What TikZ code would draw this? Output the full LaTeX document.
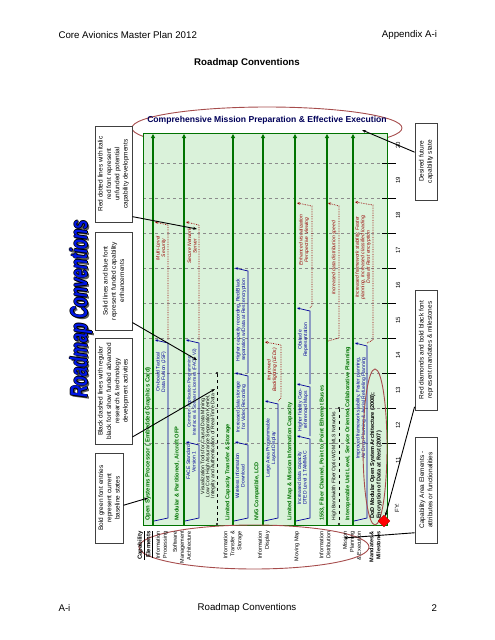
\documentclass[tikz,border=0pt]{standalone}
\usepackage{fontspec}
\setmainfont{Liberation Sans}
\usetikzlibrary{arrows.meta,positioning,calc,shapes.geometric}
\tikzset{
    baseline color/.style={green!45!black},
    funded color/.style={blue!60!black},
    unfunded color/.style={red!60!black},
    ring color/.style={red!50!black!70!white},
    title blue/.style={blue!90!cyan!90!black},
    chart green/.style={green!10!white!95!black},
    baseline bar/.style={baseline color,line width=1.8pt,-{Triangle[length=4pt,width=4pt]}},
    funded bar/.style={funded color,line width=.7pt,-{Stealth[length=3pt,width=2.6pt]}},
    unfunded bar/.style={unfunded color,line width=.7pt,densely dotted,-{Stealth[length=3pt,width=2.6pt]}},
    research bar/.style={black,line width=.7pt,dashed},
    year grid/.style={black!45,dashed,very thin},
    arr/.style={-{Stealth[length=4pt,width=3pt]},line width=.9pt},
    end dot/.style={circle,fill=black,inner sep=0pt,minimum size=2.4pt},
    note box/.style={draw=black!75,line width=.9pt,fill=white,rotate=90,align=center,inner sep=1pt,font=\fontsize{6.5}{8.3}\selectfont},
    big title font/.style={rotate=90,font=\bfseries\itshape\fontsize{24}{24}\selectfont},
    baseline text/.style={baseline color,rotate=90,anchor=west,inner sep=0pt,font=\bfseries\fontsize{5.6}{6}\selectfont},
    bar text/.style={rotate=90,align=center,inner sep=0pt,font=\fontsize{5}{5.5}\selectfont},
    funded text/.style={bar text,funded color},
    unfunded text/.style={bar text,unfunded color,font=\itshape\fontsize{5}{5.5}\selectfont},
    element label/.style={rotate=90,anchor=east,align=right,inner sep=0pt,font=\fontsize{5.5}{7}\selectfont},
    year label/.style={rotate=90,inner sep=0pt,font=\fontsize{6}{7}\selectfont},
}
\tikzstyle{every node}=[font=\fontsize{9.7}{11}\selectfont]

\begin{document}
\begin{tikzpicture}[x=1pt,y=-1pt]
    \useasboundingbox (0,0) rectangle (495,640);

    % page header and footer
    \node[anchor=west] (head left) at (55,35) {Core Avionics Master Plan 2012};
    \node[anchor=east] (head right) at (440.5,35) {Appendix A-i};
    \node[font=\bfseries\fontsize{9.7}{11}\selectfont] (page title) at (247,63) {Roadmap Conventions};
    \node[anchor=west] (foot left) at (55,608) {A-i};
    \node (foot title) at (247,608) {Roadmap Conventions};
    \node[anchor=east] (foot right) at (440.5,608) {2};

    % sideways word-art title
    \node[big title font,text=black!65] (big shadow) at (83,311) {\scalebox{.68}[1]{Roadmap Conventions}};
    \foreach \dx/\dy [count=\i] in {-.8/0,.8/0,0/-.8,0/.8}{
        \node[big title font,text=black] (big edge \i) at ({81+\dx},{309+\dy}) {\scalebox{.68}[1]{Roadmap Conventions}};
    }
    \node[big title font,title blue] (big title) at (81,309) {\scalebox{.68}[1]{Roadmap Conventions}};

    % goal ring, its lower half sits behind the chart
    \draw[ring color,line width=.9pt] (267,128) ellipse [x radius=135,y radius=21];
    \node[text=blue!35!black,font=\bfseries\fontsize{8.6}{10}\selectfont] (goal) at (267,120) {Comprehensive Mission Preparation \& Effective Execution};

    % chart field, year grid and ticks
    \fill[chart green] (143,133) rectangle (387,525);
    \foreach \y in {163,198,...,443}{
        \draw[year grid] (143,\y) -- (387,\y);
        \draw[black,line width=1pt] (382,\y) -- (396,\y);
    }
    \draw[baseline color,line width=.8pt] (143,133) rectangle (387,525);
    \foreach \yr [count=\k from 0] in {20,19,...,11}{
        \node[year label] (fy \yr) at (398,{145.5+35*\k}) {\yr};
    }
    \node[year label] (fy) at (397,508) {FY:};

    % baselines
    \foreach \x in {153,184,233,263,295,327,353}{
        \draw[baseline bar] (\x,525) -- (\x,134);
    }
    \node[baseline text,font=\bfseries\fontsize{6}{6}\selectfont] (osp) at (148,521) {Open Systems Processor ( Embedded Graphics Card)};
    \node[baseline text] (ofp) at (177,521) {Modular \& Partitioned, Aircraft OFP};
    \node[baseline text] (lct) at (228,521) {Limited Capacity Transfer \& Storage};
    \node[baseline text] (nvg) at (257,521) {NVG Compatible, LCD};
    \node[baseline text] (lmm) at (290,521) {Limited Map \& Mission Information Capacity};
    \node[baseline text] (bus) at (322,521) {1553, Fiber Channel, Point to Point Ethernet Buses};
    \node[baseline text] (iul) at (348,521) {Interoperable Unit Level, Service Oriented Collaborative Planning};

    % information processing
    \draw[funded bar] (154,521) -- (168,518) -- (168,343) -- (155,340);
    \draw[unfunded bar] (168,340) -- (168,225) -- (155,222);
    \node[funded text] (jsf) at (161,372) {On-board Tactical\\Data Fusion (JSF)};
    \node[unfunded text] (mls) at (161,248) {Multi-Level\\Security};

    % software management architecture
    \draw[funded bar] (185,521) -- (199,518) -- (199,445) -- (186,442);
    \draw[funded bar] (199,442) -- (199,343) -- (186,340);
    \draw[unfunded bar] (199,340) -- (199,225) -- (186,222);
    \node[funded text] (face one) at (191,462) {FACE Standard\\Version 1};
    \node[funded text,font=\fontsize{4.6}{5.2}\selectfont] (face two) at (192,392) {Common Application Programming\\Interfaces \& Software Licenses (FACE V2)};
    \node[unfunded text] (sns) at (192,246) {Secure Network\\Server};
    \node[end dot] (vis top) at (217,373) {};
    \node[end dot] (vis end) at (217,524) {};
    \draw[research bar] (vis top) -- (vis end);
    \node[bar text,font=\fontsize{5.1}{5}\selectfont] (vis) at (208,446) {Visualization Tools for Causal Data Mining,\\Low Cost High Assurance Separation Kernel,\\Integrity and Authentication of Real-Time Data};

    % information transfer and storage
    \draw[funded bar] (234,521) -- (248,518) -- (248,445) -- (235,442);
    \draw[funded bar] (248,442) -- (248,376) -- (235,373);
    \draw[funded bar] (248,373) -- (248,271) -- (235,268);
    \node[funded text] (wid) at (240,476) {Wireless Information\\Download};
    \node[funded text] (vrec) at (241,407) {Increased data storage\\for Video Recording};
    \node[funded text] (redblack) at (241,320) {Higher capacity recording, Red/Black\\separation w/Data at Rest encryption};

    % information display
    \draw[funded bar] (264,521) -- (278,518) -- (278,404) -- (265,401);
    \draw[unfunded bar] (278,401) -- (281,398) -- (281,345) -- (265,342);
    \node[funded text] (lapd) at (271,448) {Large Area Programmable\\Layout Display};
    \node[unfunded text] (led) at (272,370) {Improved\\Backlighting (LEDs)};

    % moving map
    \draw[funded bar] (296,521) -- (310,518) -- (310,439) -- (297,436);
    \draw[funded bar] (310,436) -- (310,387) -- (297,384);
    \draw[funded bar] (310,384) -- (310,311) -- (297,308);
    \draw[unfunded bar] (310,308) -- (312,305) -- (312,206) -- (297,203);
    \node[funded text] (dted) at (302,478) {Increased data capacity\\DTED Level 1 TAMMAC};
    \node[funded text] (geo) at (303,410) {Higher fidelity Geo-\\referenced Maps};
    \node[funded text] (obst) at (303,340) {Obstacle\\Representation};
    \node[unfunded text] (persp) at (304,240) {Enhanced visualization\\Perspective Viewing};

    % information distribution
    \node[end dot] (wdm top) at (339,408) {};
    \node[end dot] (wdm end) at (339,524) {};
    \draw[research bar] (wdm top) -- (wdm end);
    \node[bar text] (wdm) at (334,466) {High Bandwidth Fiber Optic WDM MLS Networks};
    \draw[unfunded bar] (328,341) -- (339,338) -- (339,206) -- (328,203);
    \node[unfunded text] (speed) at (334,258) {Increased data distribution speed};

    % mission planning and execution
    \draw[funded bar] (354,521) -- (367,518) -- (367,346) -- (355,343);
    \draw[unfunded bar] (367,343) -- (373,340) -- (373,205) -- (355,202);
    \node[funded text] (aerial) at (361,408) {Improved framework stability, Faster planning,\\Air Drop Planning \& Aerial Refueling Planning};
    \node[unfunded text] (classified) at (363,257) {Increased framework stability, Faster\\planning, Increased classified loading,\\Data at Rest encryption};

    % mandates and milestones
    \draw[ring color,line width=.9pt] (375,447) ellipse [x radius=12,y radius=78];
    \node[rotate=90,anchor=west,align=left,inner sep=0pt,font=\bfseries\fontsize{5.6}{6.5}\selectfont] (dod) at (376,519) {DoD Modular Open System Architecture  (2008);\\Encryption of Data at Rest (2007)};
    \node[diamond,fill=red,draw=red!70!black,inner sep=0pt,minimum size=12pt] (milestone) at (384,521) {};

    % capability elements
    \draw[ring color,line width=.9pt] (254,547) ellipse [x radius=115,y radius=22];
    \node[element label,font=\bfseries\fontsize{6}{7}\selectfont] (el cap) at (145,531) {\underline{Capability}\\\underline{Elements}};
    \node[element label] (el proc) at (162,531) {Information\\Processing};
    \node[element label] (el soft) at (182,531) {Software\\Management\\Architecture};
    \node[element label] (el xfer) at (233,531) {Information\\Transfer \&\\Storage};
    \node[element label] (el disp) at (264,531) {Information\\Display};
    \node[element label] (el map) at (297,531) {Moving Map};
    \node[element label] (el dist) at (325,531) {Information\\Distribution};
    \node[element label] (el plan) at (352,531) {Mission\\Planning\\\& Execution};
    \node[element label,font=\bfseries\fontsize{5.5}{7}\selectfont] (el mand) at (375,531) {Mandates \&\\Milestones};

    % legend notes
    \node[note box,minimum width=96pt,minimum height=37pt] (unfunded note) at (113.5,174) {Red dotted lines with italic\\red font represent\\unfunded potential\\capability developments};
    \node[note box,minimum width=98pt,minimum height=37pt] (funded note) at (113.5,281) {Solid lines and blue font\\represent funded capability\\enhancements};
    \node[note box,minimum width=106pt,minimum height=37pt] (research note) at (113.5,391) {Black dashed lines with regular\\black font show funded advanced\\research \& technology\\development activities};
    \node[note box,minimum width=90pt,minimum height=28pt] (baseline note) at (109,498) {Bold green font entries\\represent current\\baseline states};
    \node[note box,minimum width=77pt,minimum height=22pt] (future note) at (426,161.5) {Desired future\\capability state};
    \node[note box,minimum width=120pt,minimum height=22pt] (mandate note) at (426,350) {Red diamonds and bold black font\\represent mandates \& milestones};
    \node[note box,minimum width=106pt,minimum height=22pt] (element note) at (426,490) {Capability Area Elements -\\attributes or functionalities};

    \coordinate (sns line) at (197,229);
    \coordinate (face line) at (197,360);
    \coordinate (vis line) at (215,389);
    \coordinate (osp start) at (148,498);
    \coordinate (goal edge) at (362,130);
    \coordinate (element edge) at (344,538);

    \draw[arr] ($(unfunded note.south west)!.06!(unfunded note.south east)$) -- (sns line);
    \draw[arr] ($(funded note.south west)!.08!(funded note.south east)$) -- (face line);
    \draw[arr] ($(research note.south west)!.07!(research note.south east)$) -- (vis line);
    \draw[arr] ($(baseline note.south west)!.42!(baseline note.south east)$) -- (osp start);
    \draw[arr] ($(future note.north east)!.38!(future note.north west)$) -- (goal edge);
    \draw[arr] ($(mandate note.north west)!.03!(mandate note.north east)$) -- (milestone);
    \draw[arr] ($(element note.north west)!.1!(element note.north east)$) -- (element edge);
\end{tikzpicture}
\end{document}
